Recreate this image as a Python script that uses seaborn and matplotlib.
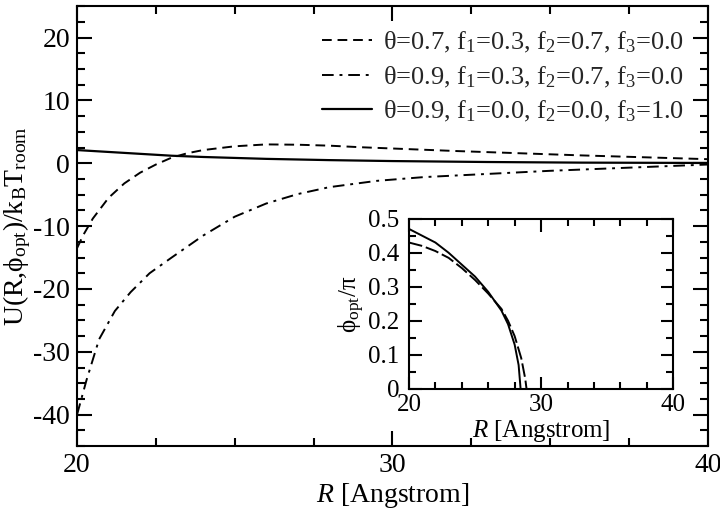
import matplotlib
matplotlib.use('Agg')
import matplotlib.pyplot as plt
from matplotlib.ticker import MultipleLocator
import pandas as pd
import seaborn as sns

# main panel: U(R, phi_opt) / kB T_room
r_a = [20, 20.2, 20.5, 21, 21.5, 22, 22.5, 23, 23.5, 24, 25, 26, 27, 28, 29, 30, 32, 34, 36, 38, 40]
u_a = [-13.5, -11.4, -8.8, -5.5, -3.2, -1.5, -0.2, 0.9, 1.6, 2.1, 2.7, 3.0, 2.95, 2.8, 2.55, 2.35, 1.95, 1.6, 1.25, 0.95, 0.65]

r_b = [20, 20.3, 20.7, 21.2, 21.7, 22.3, 23, 24, 25, 26, 27, 28, 29.5, 31, 33, 35, 37.5, 40]
u_b = [-40, -34.5, -28, -23.5, -20.5, -17.5, -15, -11.5, -8.5, -6.4, -4.9, -3.8, -2.8, -2.2, -1.7, -1.2, -0.7, -0.2]

r_c = [20, 21, 22, 23, 24, 25, 26, 28, 30, 33, 36, 40]
u_c = [2.1, 1.8, 1.5, 1.2, 1.0, 0.85, 0.7, 0.5, 0.35, 0.2, 0.1, 0.05]

labels = ['θ=0.7, f$_1$=0.3, f$_2$=0.7, f$_3$=0.0',
          'θ=0.9, f$_1$=0.3, f$_2$=0.7, f$_3$=0.0',
          'θ=0.9, f$_1$=0.0, f$_2$=0.0, f$_3$=1.0']

# inset: phi_opt / pi
ri_solid = [20, 21, 22, 23, 24, 25, 26, 27, 27.5, 28, 28.3, 28.45]
phi_solid = [0.47, 0.45, 0.43, 0.40, 0.365, 0.33, 0.285, 0.23, 0.19, 0.13, 0.07, 0.0]
ri_dash = [20, 21, 22, 23, 24, 25, 26, 27, 27.5, 28, 28.5, 28.8, 28.9]
phi_dash = [0.43, 0.42, 0.405, 0.385, 0.355, 0.32, 0.28, 0.235, 0.2, 0.155, 0.09, 0.03, 0.0]

sns.set_theme(style='ticks')
plt.rcParams['font.family'] = ['Liberation Serif', 'DejaVu Serif']
plt.rcParams['mathtext.fontset'] = 'custom'
plt.rcParams['mathtext.rm'] = 'Liberation Serif'
plt.rcParams['mathtext.it'] = 'Liberation Serif:italic'
plt.rcParams['axes.unicode_minus'] = False
plt.rcParams['axes.linewidth'] = 1.5

DASH = (5, 3)
DASHDOT = (6, 3, 1.5, 3)


def style_axes(ax, xmin, xmaj, ymin, ymaj, size, major_len, minor_len, pad):
    ax.xaxis.set_major_locator(MultipleLocator(xmaj))
    ax.xaxis.set_minor_locator(MultipleLocator(xmin))
    ax.yaxis.set_major_locator(MultipleLocator(ymaj))
    ax.yaxis.set_minor_locator(MultipleLocator(ymin))
    ax.tick_params(which='both', direction='in', top=True, right=True,
                   width=1.5, labelsize=size, colors='black', pad=pad)
    ax.tick_params(which='major', length=major_len)
    ax.tick_params(which='minor', length=minor_len)
    for s in ax.spines.values():
        s.set_color('black')
        s.set_linewidth(1.5)


def main():
    fig = plt.figure(figsize=(7.2, 5.11), dpi=100)
    ax = fig.add_axes([0.107, 0.127, 0.876, 0.861])

    df_a = pd.DataFrame({'R': r_a, 'U': u_a})
    df_b = pd.DataFrame({'R': r_b, 'U': u_b})
    df_c = pd.DataFrame({'R': r_c, 'U': u_c})

    sns.lineplot(data=df_a, x='R', y='U', ax=ax, color='black', lw=1.4,
                 dashes=DASH, label=labels[0])
    sns.lineplot(data=df_b, x='R', y='U', ax=ax, color='black', lw=1.4,
                 dashes=DASHDOT, label=labels[1])
    sns.lineplot(data=df_c, x='R', y='U', ax=ax, color='black', lw=1.6,
                 label=labels[2])

    ax.set_xlim(20, 40)
    ax.set_ylim(-45, 25)
    style_axes(ax, 2.5, 10, 2.5, 10, 20, 11, 6, 5)
    ax.set_xlabel('$R$ [Angstrom]', fontsize=20, color='black', labelpad=2)
    ax.set_ylabel('U(R,ϕ$_{\\rm opt}$)/k$_{\\rm B}$T$_{\\rm room}$',
                  fontsize=20, color='black', labelpad=0)
    ax.legend(loc='upper right', frameon=False, fontsize=19,
              handlelength=1.9, handletextpad=0.4, labelspacing=0.35,
              borderaxespad=0.5)

    ins = fig.add_axes([0.568, 0.239, 0.367, 0.333])
    sns.lineplot(x=ri_solid, y=phi_solid, ax=ins, color='black', lw=1.4)
    sns.lineplot(x=ri_dash, y=phi_dash, ax=ins, color='black', lw=1.4,
                 dashes=(7, 2))
    ins.set_xlim(20, 40)
    ins.set_ylim(0, 0.5)
    style_axes(ins, 2, 10, 0.05, 0.1, 18, 9, 5, 4)
    ins.tick_params(axis='y', pad=7)
    ins.yaxis.set_major_formatter(plt.FuncFormatter(lambda v, p: '0' if v == 0 else f'{v:.1f}'))
    ins.set_xlabel('$R$ [Angstrom]', fontsize=18, color='black', labelpad=1)
    ins.set_ylabel('ϕ$_{\\rm opt}$/π', fontsize=18, color='black', labelpad=1)

    fig.savefig('out.png', dpi=100)


if __name__ == '__main__':
    main()
